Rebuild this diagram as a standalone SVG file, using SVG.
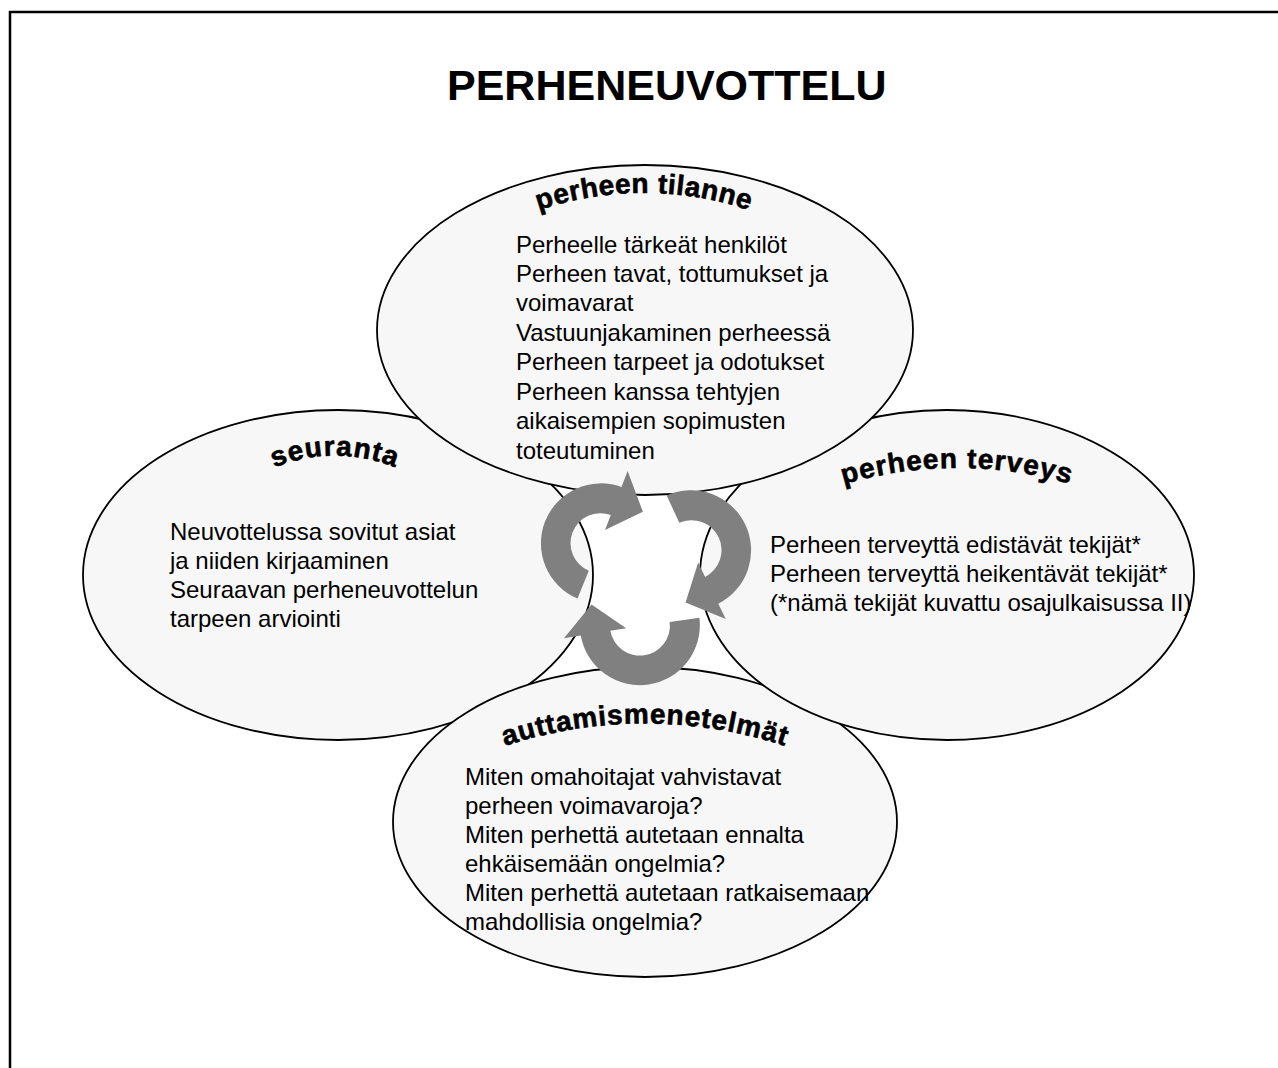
<svg xmlns="http://www.w3.org/2000/svg" xmlns:xlink="http://www.w3.org/1999/xlink" width="1278" height="1068" viewBox="0 0 1278 1068">
<style>
.bg{fill:#ffffff}
.frame{fill:none;stroke:#000;stroke-width:2.5}
.ell{fill:#f7f7f7;stroke:#000;stroke-width:1.8}
.title{font-family:"Liberation Sans",Arial,sans-serif;font-weight:bold;font-size:43px;fill:#000}
.body{font-family:"Liberation Sans",Arial,sans-serif;font-size:24px;fill:#000}
.lab{font-family:"Liberation Sans",Arial,sans-serif;font-weight:bold;font-size:28px;fill:#000;stroke:#000;stroke-width:0.6}
.arr{fill:#808080}
</style>
<defs>
<path id="arc1" d="M480,237 A327,327 0 0 1 808,237"/>
<path id="arc2" d="M230,495 A160,160 0 0 1 440,495"/>
<path id="arc3" d="M800,500 A400,400 0 0 1 1114,500"/>
<path id="arc4" d="M450,768 A450,450 0 0 1 840,768"/>
<path id="arrowShape" d="M577.5,598.6 A60,60 0 0 1 621.5,487 L627.6,471.1 L642.9,511.8 L605,529.9 L610.8,515 A30,30 0 0 0 588.8,570.8 Z"/>
</defs>
<rect class="bg" x="0" y="0" width="1278" height="1068"/>
<rect class="frame" x="10" y="12" width="1300" height="1100"/>
<text class="title" x="447" y="100">PERHENEUVOTTELU</text>

<g id="seuranta">
<ellipse class="ell" cx="338" cy="575" rx="255" ry="165"/>
<text class="lab" letter-spacing="1"><textPath href="#arc2" xlink:href="#arc2" startOffset="50%" text-anchor="middle">seuranta</textPath></text>
<text class="body" x="170" y="540">Neuvottelussa sovitut asiat</text>
<text class="body" x="170" y="569">ja niiden kirjaaminen</text>
<text class="body" x="170" y="598">Seuraavan perheneuvottelun</text>
<text class="body" x="170" y="627">tarpeen arviointi</text>
</g>

<g id="auttamismenetelmat">
<ellipse class="ell" cx="645" cy="822" rx="252" ry="155"/>
<text class="lab" letter-spacing="0.8"><textPath href="#arc4" xlink:href="#arc4" startOffset="50%" text-anchor="middle">auttamismenetelmät</textPath></text>
<text class="body" x="465" y="785">Miten omahoitajat vahvistavat</text>
<text class="body" x="465" y="814">perheen voimavaroja?</text>
<text class="body" x="465" y="843">Miten perhettä autetaan ennalta</text>
<text class="body" x="465" y="872">ehkäisemään ongelmia?</text>
<text class="body" x="465" y="901">Miten perhettä autetaan ratkaisemaan</text>
<text class="body" x="465" y="930">mahdollisia ongelmia?</text>
</g>

<g id="perheen-terveys">
<ellipse class="ell" cx="947" cy="575" rx="247" ry="165"/>
<text class="lab" letter-spacing="1"><textPath href="#arc3" xlink:href="#arc3" startOffset="50%" text-anchor="middle">perheen terveys</textPath></text>
<text class="body" x="770" y="553">Perheen terveyttä edistävät tekijät*</text>
<text class="body" x="770" y="582">Perheen terveyttä heikentävät tekijät*</text>
<text class="body" x="770" y="611">(*nämä tekijät kuvattu osajulkaisussa II)</text>
</g>

<g id="perheen-tilanne">
<ellipse class="ell" cx="645" cy="330" rx="268" ry="165"/>
<text class="lab" letter-spacing="0.5"><textPath href="#arc1" xlink:href="#arc1" startOffset="50%" text-anchor="middle">perheen tilanne</textPath></text>
<text class="body" x="516" y="253">Perheelle tärkeät henkilöt</text>
<text class="body" x="516" y="282">Perheen tavat, tottumukset ja</text>
<text class="body" x="516" y="311">voimavarat</text>
<text class="body" x="516" y="341">Vastuunjakaminen perheessä</text>
<text class="body" x="516" y="370">Perheen tarpeet ja odotukset</text>
<text class="body" x="516" y="400">Perheen kanssa tehtyjen</text>
<text class="body" x="516" y="429">aikaisempien sopimusten</text>
<text class="body" x="516" y="459">toteutuminen</text>
</g>

<g id="connectors">
<use class="arr" href="#arrowShape" xlink:href="#arrowShape"/>
<use class="arr" href="#arrowShape" xlink:href="#arrowShape" transform="rotate(13 692 550) rotate(120 644 573)"/>
<use class="arr" href="#arrowShape" xlink:href="#arrowShape" transform="rotate(240 644 573)"/>
</g>
</svg>
